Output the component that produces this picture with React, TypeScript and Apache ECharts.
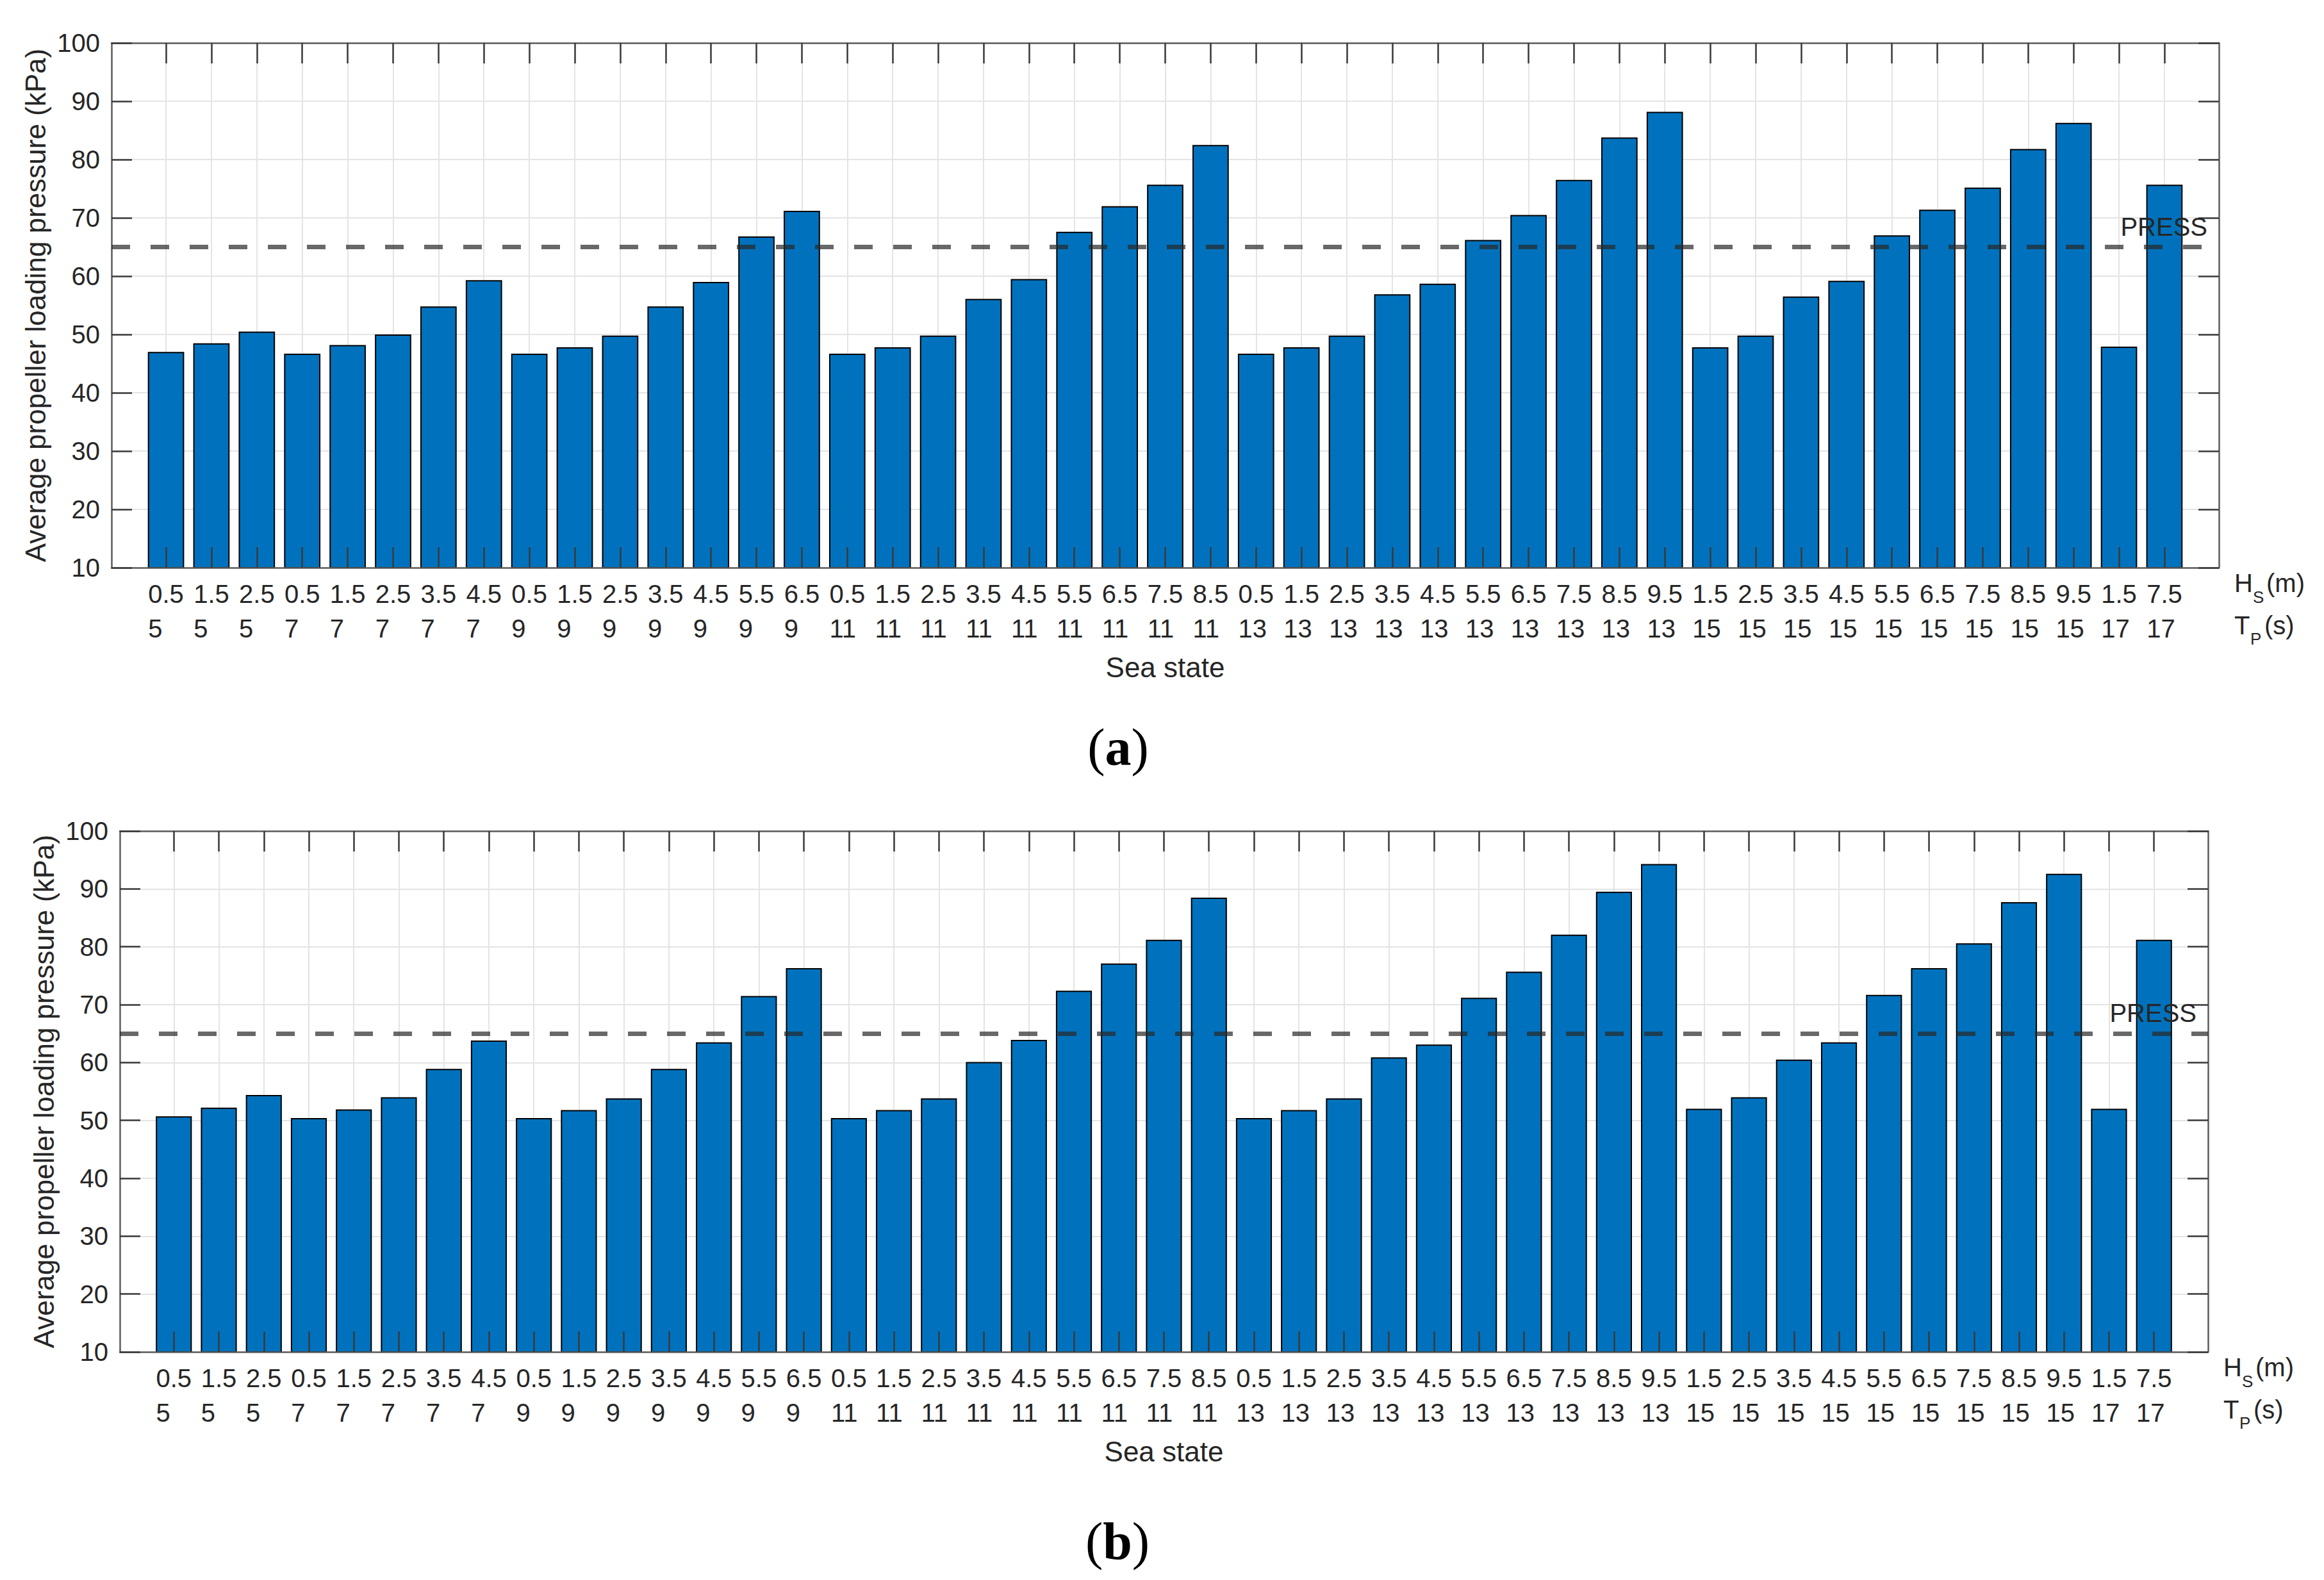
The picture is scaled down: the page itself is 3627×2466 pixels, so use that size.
import React, { useEffect, useRef } from "react";
import * as echarts from "echarts";

// Sea-state categories: significant wave height Hs (m) and peak period Tp (s)
const HS_M = [
  "0.5", "1.5", "2.5",
  "0.5", "1.5", "2.5", "3.5", "4.5",
  "0.5", "1.5", "2.5", "3.5", "4.5", "5.5", "6.5",
  "0.5", "1.5", "2.5", "3.5", "4.5", "5.5", "6.5", "7.5", "8.5",
  "0.5", "1.5", "2.5", "3.5", "4.5", "5.5", "6.5", "7.5", "8.5", "9.5",
  "1.5", "2.5", "3.5", "4.5", "5.5", "6.5", "7.5", "8.5", "9.5",
  "1.5", "7.5",
];
const TP_S = [
  "5", "5", "5",
  "7", "7", "7", "7", "7",
  "9", "9", "9", "9", "9", "9", "9",
  "11", "11", "11", "11", "11", "11", "11", "11", "11",
  "13", "13", "13", "13", "13", "13", "13", "13", "13", "13",
  "15", "15", "15", "15", "15", "15", "15", "15", "15",
  "17", "17",
];

// (a) average propeller loading pressure (kPa)
const PRESSURE_A = [
  47.0, 48.5, 50.5,
  46.7, 48.2, 50.0, 54.8, 59.3,
  46.7, 47.8, 49.8, 54.8, 59.0, 66.8, 71.2,
  46.7, 47.8, 49.8, 56.1, 59.5, 67.6, 72.0, 75.7, 82.5,
  46.7, 47.8, 49.8, 56.9, 58.7, 66.2, 70.5, 76.5, 83.8, 88.2,
  47.8, 49.8, 56.5, 59.2, 67.0, 71.4, 75.2, 81.8, 86.3,
  47.9, 75.7,
];
// (b) average propeller loading pressure (kPa)
const PRESSURE_B = [
  50.7, 52.2, 54.4,
  50.4, 51.9, 54.0, 58.9, 63.8,
  50.4, 51.8, 53.8, 58.9, 63.5, 71.5, 76.3,
  50.4, 51.8, 53.8, 60.1, 63.9, 72.4, 77.1, 81.2, 88.5,
  50.4, 51.8, 53.8, 60.9, 63.1, 71.2, 75.7, 82.1, 89.5, 94.3,
  52.0, 54.0, 60.5, 63.5, 71.7, 76.3, 80.6, 87.7, 92.6,
  52.0, 81.2,
];

const PRESS_LIMIT = 65;
const PRESS_LABEL = "PRESS";
const Y_MIN = 10;
const Y_MAX = 100;
const Y_STEP = 10;
const X_MIN = -0.2;
const X_MAX = 46.2;
const Y_TITLE = "Average propeller loading pressure (kPa)";
const X_TITLE = "Sea state";
const CAPTIONS = ["a", "b"];

const TEXT = "#262626";
const FRAME = "#5c5c5c";
const TICK = "#3a3a3a";
const GRIDC = "#e4e4e4";
const BAR = "#0072BD";
const SANS = "'Liberation Sans', Arial, Helvetica, sans-serif";
const SERIF = "'Liberation Serif', 'Times New Roman', serif";

const PANELS = [
  { left: 174, top: 67, width: 3289, height: 819, values: PRESSURE_A, caption: { x: 1745, y: 1166 } },
  { left: 187, top: 1297, width: 3259, height: 813, values: PRESSURE_B, caption: { x: 1744, y: 2405 } },
];

function App() {
  const ref = useRef<HTMLDivElement>(null);
  useEffect(() => {
    if (!ref.current) return;
    const chart = echarts.init(ref.current, undefined, { renderer: "svg" });
    const positions = HS_M.map((_, i) => i + 1);
    const grids: any[] = [];
    const xAxes: any[] = [];
    const yAxes: any[] = [];
    const series: any[] = [];
    const graphics: any[] = [];

    PANELS.forEach((p, g) => {
      grids.push({
        left: p.left, top: p.top, width: p.width, height: p.height,
        containLabel: false, outerBoundsMode: "none", show: false,
      });
      const xCommon = { gridIndex: g, type: "value", min: X_MIN, max: X_MAX };
      xAxes.push({
        ...xCommon,
        position: "bottom",
        z: 3,
        axisLine: { show: true, onZero: false, lineStyle: { color: FRAME, width: 2.5 } },
        axisTick: { show: true, inside: true, length: 32, customValues: positions, lineStyle: { color: TICK, width: 2.5 } },
        axisLabel: {
          show: true, customValues: positions, margin: 14,
          formatter: (v: number) => {
            const i = Math.round(v) - 1;
            return `{v|${HS_M[i]}}\n{v|${TP_S[i]}}`;
          },
          rich: { v: { align: "left", fontSize: 40, lineHeight: 54, color: TEXT, fontFamily: SANS } },
        },
        splitLine: { show: false },
        name: X_TITLE, nameLocation: "middle", nameGap: 133, nameMoveOverlap: false,
        nameTextStyle: { fontSize: 44, color: TEXT, fontFamily: SANS },
      });
      xAxes.push({
        ...xCommon,
        position: "top",
        z: 3,
        axisLine: { show: true, onZero: false, lineStyle: { color: FRAME, width: 2.5 } },
        axisTick: { show: true, inside: true, length: 32, customValues: positions, lineStyle: { color: TICK, width: 2.5 } },
        axisLabel: { show: false },
        splitLine: { show: false },
      });
      xAxes.push({
        ...xCommon,
        position: "bottom",
        z: 0,
        axisLine: { show: false, onZero: false },
        axisTick: { show: false, customValues: positions },
        axisLabel: { show: false, customValues: positions },
        splitLine: { show: true, lineStyle: { color: GRIDC, width: 2 } },
      });

      const yCommon = { gridIndex: g, type: "value", min: Y_MIN, max: Y_MAX, interval: Y_STEP };
      yAxes.push({
        ...yCommon,
        position: "left",
        z: 3,
        axisLine: { show: true, onZero: false, lineStyle: { color: FRAME, width: 2.5 } },
        axisTick: { show: true, inside: true, length: 32, lineStyle: { color: TICK, width: 2.5 } },
        axisLabel: { show: true, fontSize: 40, color: TEXT, margin: 18, fontFamily: SANS },
        splitLine: { show: false },
        name: Y_TITLE, nameLocation: "middle", nameGap: 97, nameMoveOverlap: false,
        nameTextStyle: { fontSize: 44, color: TEXT, fontFamily: SANS },
      });
      yAxes.push({
        ...yCommon,
        position: "right",
        z: 3,
        axisLine: { show: true, onZero: false, lineStyle: { color: FRAME, width: 2.5 } },
        axisTick: { show: true, inside: true, length: 32, lineStyle: { color: TICK, width: 2.5 } },
        axisLabel: { show: false },
        splitLine: { show: false },
      });
      yAxes.push({
        ...yCommon,
        position: "left",
        z: 0,
        axisLine: { show: false, onZero: false },
        axisTick: { show: false },
        axisLabel: { show: false },
        splitLine: { show: true, lineStyle: { color: GRIDC, width: 2 } },
      });

      series.push({
        type: "bar",
        xAxisIndex: g * 3,
        yAxisIndex: g * 3,
        data: p.values.map((v, i) => [positions[i], v]),
        barWidth: "80%",
        clip: true,
        z: 2,
        itemStyle: { color: BAR, borderColor: "#000", borderWidth: 2 },
        emphasis: { disabled: true },
        markLine: {
          silent: true,
          symbol: ["none", "none"],
          data: [{ yAxis: PRESS_LIMIT }],
          lineStyle: { type: [29, 32], width: 7, color: "rgba(40,40,40,0.7)" },
          label: {
            show: true, position: "insideEndTop", formatter: PRESS_LABEL,
            fontSize: 40, color: TEXT, fontFamily: SANS, distance: [18, 12],
          },
          emphasis: { disabled: true },
        },
      });

      // Hs(m) / Tp(s) row labels to the right of the tick labels
      const axisY = p.top + p.height;
      const x0 = p.left + p.width + 24;
      const t = (text: string, x: number, y: number, size: number) => ({
        type: "text", x, y,
        style: { text, fontSize: size, fill: TEXT, fontFamily: SANS, align: "left", verticalAlign: "middle" },
      });
      graphics.push(t("H", x0, axisY + 24, 40));
      graphics.push(t("S", x0 + 29, axisY + 46, 26));
      graphics.push(t("(m)", x0 + 50, axisY + 24, 40));
      graphics.push(t("T", x0, axisY + 90, 40));
      graphics.push(t("P", x0 + 25, axisY + 111, 26));
      graphics.push(t("(s)", x0 + 47, axisY + 90, 40));

      // panel caption
      graphics.push({
        type: "text", x: p.caption.x, y: p.caption.y,
        style: {
          text: `{p|(}{b|${CAPTIONS[g]}}{p|)}`,
          align: "center", verticalAlign: "middle",
          rich: {
            p: { fontSize: 82, fontFamily: SERIF, fill: "#000", fontWeight: "normal" },
            b: { fontSize: 82, fontFamily: SERIF, fill: "#000", fontWeight: "bold" },
          },
        },
      });
    });

    chart.setOption({
      animation: false,
      backgroundColor: "#ffffff",
      textStyle: { fontFamily: SANS, color: TEXT },
      grid: grids,
      xAxis: xAxes,
      yAxis: yAxes,
      series,
      graphic: graphics,
    });
    return () => chart.dispose();
  }, []);
  return (
    <div
      ref={ref}
      style={{ position: "absolute", left: 0, top: 0, width: 3627, height: 2466, background: "#fff" }}
    />
  );
}

export default App;
